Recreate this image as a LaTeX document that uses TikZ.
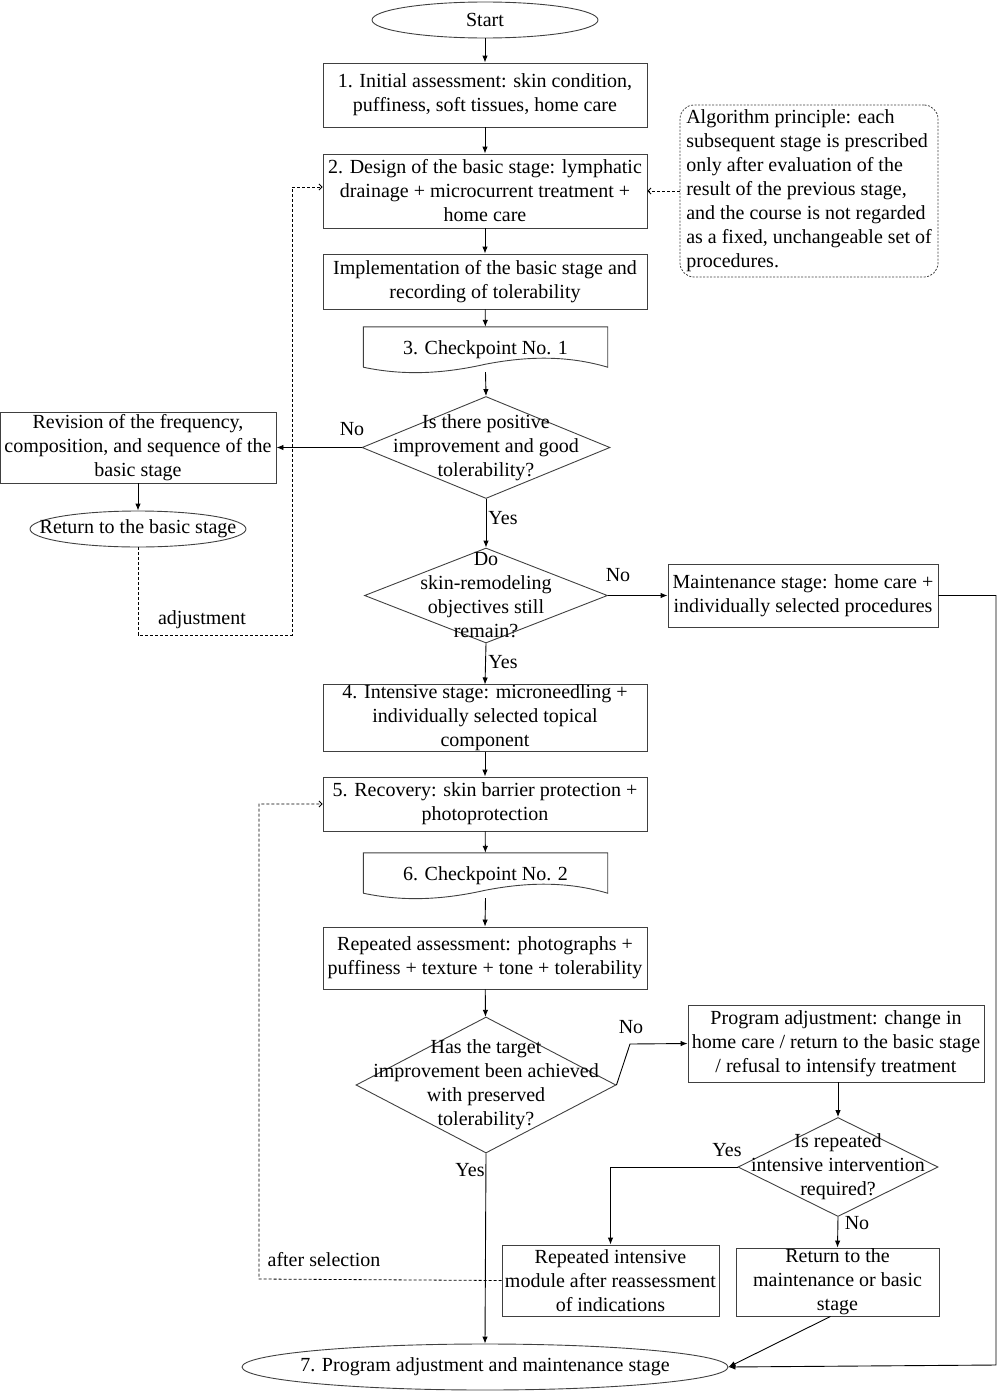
\documentclass[tikz,border=0pt]{standalone}
\usepackage{fontspec}
\setmainfont{Liberation Serif}
\usetikzlibrary{shapes.geometric,arrows.meta,calc}
\begin{document}
\begin{tikzpicture}[x=1pt,y=-1pt,
 every node/.style={font=\fontsize{20}{24}\selectfont},
 box/.style={draw=black!75, line width=0.9pt, rectangle, align=center, inner sep=0pt},
 shapeline/.style={draw=black!75, line width=0.9pt},
 txt/.style={align=center, inner sep=0pt},
 arr/.style={line width=0.9pt, -{Latex[length=7pt,width=5.5pt]}},
 darr/.style={line width=0.8pt, dash pattern=on 3pt off 2pt, -{Straight Barb[length=3pt,width=6pt]}},
 lbl/.style={inner sep=2pt}]
\useasboundingbox (0,0) rectangle (1003,1392);

% main column
\node[shapeline, ellipse, minimum width=226, minimum height=36, inner sep=0pt] (start) at (485,20) {Start};
\node[box, minimum width=324, minimum height=64] (b1) at (485,95) {1. Initial assessment: skin condition,\\puffiness, soft tissues, home care};
\node[box, minimum width=324, minimum height=74] (b2) at (485,191) {2. Design of the basic stage: lymphatic\\drainage + microcurrent treatment +\\home care};
\node[box, minimum width=324, minimum height=55] (impl) at (485,281.5) {Implementation of the basic stage and\\recording of tolerability};
\node[minimum width=244, minimum height=40, inner sep=0pt] (cp1) at (485.5,347) {};
\node[txt] at (485.5,350) {3. Checkpoint No. 1};
\draw[shapeline] (cp1.south west) -- (cp1.north west) -- (cp1.north east) -- (cp1.south east)
  .. controls ($(cp1.south)+(81.5,-12)$) and ($(cp1.south)+(41.5,-11)$) .. ($(cp1.south)+(0,-3)$)
  .. controls ($(cp1.south)+(-40,6)$) and ($(cp1.south)+(-80,9)$) .. (cp1.south west);

\node[shapeline, diamond, minimum width=248, minimum height=102, inner sep=0pt] (d1) at (486,447.5) {};
\node[txt] at (d1) {Is there positive\\improvement and good\\tolerability?};

\node[box, minimum width=276, minimum height=71] (rev) at (138,447.5) {Revision of the frequency,\\composition, and sequence of the\\basic stage};
\node[shapeline, ellipse, minimum width=216, minimum height=36, inner sep=0pt] (ret) at (138,529) {};
\node[txt] at (ret) {Return to the basic stage};

\node[shapeline, diamond, minimum width=243, minimum height=95, inner sep=0pt] (d2) at (486,595.5) {};
\node[txt] at (486,595) {Do\\skin-remodeling\\objectives still\\remain?};

\node[box, minimum width=270, minimum height=63] (maint) at (803,595.5) {Maintenance stage: home care +\\individually selected procedures};

\node[box, minimum width=324, minimum height=66] (b4) at (485,718) {4. Intensive stage: microneedling +\\individually selected topical\\component};
\node[box, minimum width=324, minimum height=54] (b5) at (485,804) {5. Recovery: skin barrier protection +\\photoprotection};
\node[minimum width=244, minimum height=40, inner sep=0pt] (cp2) at (485.5,873) {};
\node[txt] at (485.5,876) {6. Checkpoint No. 2};
\draw[shapeline] (cp2.south west) -- (cp2.north west) -- (cp2.north east) -- (cp2.south east)
  .. controls ($(cp2.south)+(81.5,-12)$) and ($(cp2.south)+(41.5,-11)$) .. ($(cp2.south)+(0,-3)$)
  .. controls ($(cp2.south)+(-40,6)$) and ($(cp2.south)+(-80,9)$) .. (cp2.south west);
\node[box, minimum width=324, minimum height=62] (ra) at (485,958) {Repeated assessment: photographs +\\puffiness + texture + tone + tolerability};

\node[shapeline, diamond, minimum width=260, minimum height=136, inner sep=0pt] (d3) at (486,1085) {};
\node[txt] at (d3) {Has the target\\improvement been achieved\\with preserved\\tolerability?};

\node[box, minimum width=296, minimum height=77] (prog) at (836,1043.5) {Program adjustment: change in\\home care / return to the basic stage\\/ refusal to intensify treatment};
\node[shapeline, diamond, minimum width=200, minimum height=99, inner sep=0pt] (d4) at (838,1167) {};
\node[txt] at (d4) {Is repeated\\intensive intervention\\required?};

\node[box, minimum width=217, minimum height=71] (rep) at (610.5,1280.5) {Repeated intensive\\module after reassessment\\of indications};
\node[box, minimum width=203, minimum height=68] (retm) at (837.5,1282) {Return to the\\maintenance or basic\\stage};

\node[shapeline, ellipse, minimum width=486, minimum height=46, inner sep=0pt] (final) at (485,1367) {};
\node[txt] at (final) {7. Program adjustment and maintenance stage};

\node[draw=black!75, line width=0.8pt, dash pattern=on 2pt off 1.5pt, rounded corners=14pt, minimum width=258, minimum height=172, align=left, inner sep=0pt] (note) at (809,191)
 {Algorithm principle: each\\subsequent stage is prescribed\\only after evaluation of the\\result of the previous stage,\\and the course is not regarded\\as a fixed, unchangeable set of\\procedures.};

% helper coordinates
\coordinate (adjcorner) at (292,635);
\coordinate (selcorner) at (259,1279);
\coordinate (rail) at (996,1365);
\coordinate (nokink) at (630,1044);

% connectors
\draw[arr] (start) -- (b1);
\draw[arr] (b1) -- (b2);
\draw[arr] (b2) -- (impl);
\draw[arr] (impl) -- (cp1);
\draw[arr] ([yshift=-5pt]cp1.south) -- (d1.north);
\draw[arr] (d1.west) -- (rev.east);
\node[lbl] at (352,429) {No};
\draw[arr] (rev) -- (ret);
\draw[darr] (ret.south) |- (adjcorner) |- ([yshift=4pt]b2.west);
\node[lbl] at (202,620) {adjustment};
\draw[arr] (d1.south) -- (d2.north);
\node[lbl] at (503,518) {Yes};
\draw[arr] (d2.east) -- (maint.west);
\node[lbl] at (618,575) {No};
\draw[arr] (maint.east) -| (rail) -- (final.east);
\draw[arr] (d2.south) -- (b4.north);
\node[lbl] at (503,662) {Yes};
\draw[arr] (b4) -- (b5);
\draw[arr] (b5) -- (cp2);
\draw[arr] ([yshift=-5pt]cp2.south) -- (ra.north);
\draw[arr] (ra) -- (d3);
\draw[arr] (d3.south) -- (final.north);
\node[lbl] at (470,1170) {Yes};
\draw[arr] (d3.east) -- (nokink) -- (prog.west);
\node[lbl] at (631,1027) {No};
\draw[arr] (prog.south -| d4.north) -- (d4.north);
\draw[arr] (d4.west) -| (rep.north);
\node[lbl] at (727,1150) {Yes};
\draw[arr] (d4.south) -- (retm.north);
\node[lbl] at (857,1223) {No};
\draw[arr] ([xshift=-7pt]retm.south) -- (final.east);
\draw[darr] (rep.west) -- (selcorner) |- (b5.west);
\node[lbl] at (324,1260) {after selection};
\draw[darr] (note.west) -- (b2.east);
\end{tikzpicture}
\end{document}
